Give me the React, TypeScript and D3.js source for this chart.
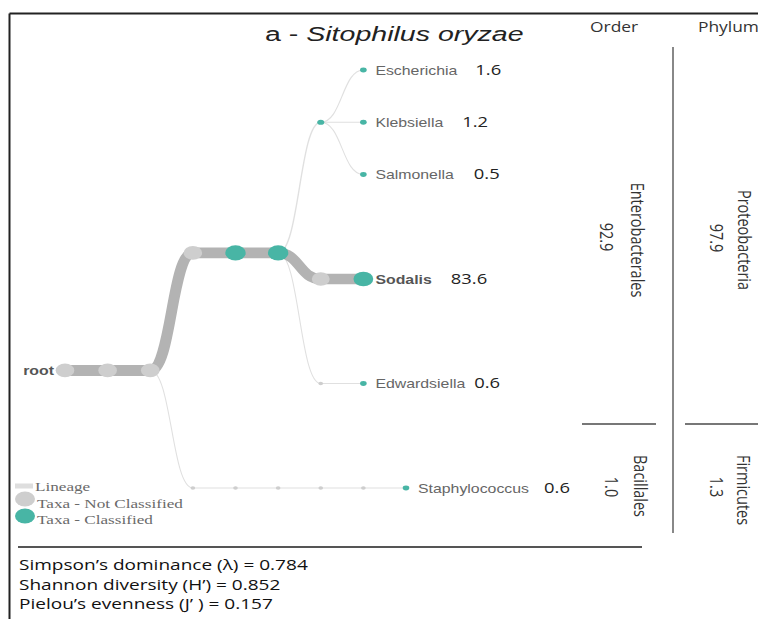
import React from 'react';
import * as d3 from 'd3';

// lineage tree: node ids, their parents, and whether the taxon is classified
const nodeIds = [
  'root', 'domain', 'kingdom',
  'phylumA', 'classA', 'orderA',
  'familyA', 'Escherichia', 'Klebsiella', 'Salmonella',
  'familyB', 'Sodalis',
  'familyC', 'Edwardsiella',
  'phylumB', 'classB', 'orderB', 'familyD', 'genusD', 'Staphylococcus',
];
const parentIds = [
  '', 'root', 'domain',
  'kingdom', 'phylumA', 'classA',
  'orderA', 'familyA', 'familyA', 'familyA',
  'orderA', 'familyB',
  'orderA', 'familyC',
  'kingdom', 'phylumB', 'classB', 'orderB', 'familyD', 'genusD',
];
const classified = [
  false, false, false,
  false, true, true,
  true, true, true, true,
  false, true,
  false, true,
  false, false, false, false, false, true,
];

// relative abundance (%) of the genera
const leafNames = ['Escherichia', 'Klebsiella', 'Salmonella', 'Sodalis', 'Edwardsiella', 'Staphylococcus'];
const leafValues = [1.6, 1.2, 0.5, 83.6, 0.6, 0.6];

// order / phylum columns
const orderNames = ['Enterobacterales', 'Bacillales'];
const orderValues = ['92.9', '1.0'];
const phylumNames = ['Proteobacteria', 'Firmicutes'];
const phylumValues = ['97.9', '1.3'];

const statLines = [
  'Simpson\u2019s dominance (\u03bb) = 0.784',
  'Shannon diversity (H\u2019) = 0.852',
  'Pielou\u2019s evenness (J\u2019 ) = 0.157',
];

const legendItems = ['Lineage', 'Taxa - Not Classified', 'Taxa - Classified'];

const W = 758;
const H = 619;
const TEAL = '#48b5a5';
const NODE_GREY = '#cecece';
const SX = 1.27; // the original picture is stretched sideways

// space between a genus name and its value
const valueGap: Record<string, number> = {
  Escherichia: 18, Klebsiella: 19, Salmonella: 20, Sodalis: 19, Edwardsiella: 9, Staphylococcus: 15,
};

type Row = { id: string; parent: string; classified: boolean };

const rows: Row[] = nodeIds.map((id, i) => ({ id, parent: parentIds[i], classified: classified[i] }));

const App: React.FC = () => {
  const root = d3.stratify<Row>()
    .id(d => d.id)
    .parentId(d => d.parent || null)(rows);

  root.sum(d => {
    const i = leafNames.indexOf(d.id);
    return i >= 0 ? leafValues[i] : 0;
  });

  d3.tree<Row>().nodeSize([1, 1])(root);

  const nodes = root.descendants();
  const total = root.value || 1;
  const [minX, maxX] = d3.extent(nodes, d => d.x as number) as [number, number];
  const maxDepth = d3.max(nodes, d => d.depth) as number;

  const xScale = d3.scaleLinear().domain([0, maxDepth]).range([65, 406]);
  const yScale = d3.scaleLinear().domain([minX, maxX]).range([70, 488]);
  const widthScale = d3.scaleLinear().domain([0, total]).range([1, 11]);

  const px = (d: any) => xScale(d.depth);
  const py = (d: any) => yScale(d.x);

  const link = d3.linkHorizontal<any, any>()
    .x(d => px(d))
    .y(d => py(d));

  const links = root.links().sort((a, b) => (a.target.value || 0) - (b.target.value || 0));

  const nodeRy = (d: any) => (d.data.classified ? 2.4 : 1.7) + 5.2 * ((d.value || 0) / total);

  const rotated = (x: number, y: number) => `translate(${x},${y}) scale(1.22,1) rotate(90)`;

  return (
    <svg width={W} height={H} style={{ position: 'absolute', left: 0, top: 0, background: '#fff' }}>
      {/* frame */}
      <line x1={9.5} x2={W} y1={13.5} y2={13.5} stroke="#222" strokeWidth={2} />
      <line x1={9.5} x2={9.5} y1={13.5} y2={H} stroke="#222" strokeWidth={2} />

      {/* title */}
      <text transform={`translate(265,40.5) scale(1.36,1)`} fontFamily="Liberation Sans, Arial" fontSize={21} fill="#222">
        a - <tspan fontStyle="italic">Sitophilus oryzae</tspan>
      </text>
      <text transform={`translate(590,32) scale(1.2,1)`} fontFamily="Open Sans" fontSize={14.5} fill="#333">Order</text>
      <text transform={`translate(698,32) scale(1.2,1)`} fontFamily="Open Sans" fontSize={14.5} fill="#333">Phylum</text>

      {/* links */}
      {links.map((l, i) => {
        const v = l.target.value || 0;
        return (
          <path
            key={i}
            d={link(l) as string}
            fill="none"
            stroke={v > 10 ? '#b3b3b3' : '#e0e0e0'}
            strokeWidth={widthScale(v)}
            strokeLinecap="round"
          />
        );
      })}

      {/* nodes */}
      {nodes.map(d => {
        const ry = nodeRy(d);
        return (
          <ellipse
            key={d.id}
            cx={px(d)}
            cy={py(d)}
            rx={ry * 1.35}
            ry={ry}
            fill={d.data.classified ? TEAL : NODE_GREY}
          />
        );
      })}

      {/* root label */}
      <text transform={`translate(54,${py(root) + 4.5}) scale(${SX},1)`} textAnchor="end"
        fontFamily="Liberation Sans, Arial" fontWeight="bold" fontSize={12.5} fill="#555">root</text>

      {/* genus labels and values */}
      {nodes.filter(d => !d.children).map(d => {
        const i = leafNames.indexOf(d.id as string);
        const big = d.id === 'Sodalis';
        return (
          <text key={d.id} transform={`translate(${px(d) + 12},${py(d) + 4.5}) scale(${SX},1)`}>
            <tspan fontFamily="Liberation Sans, Arial" fontSize={12.5}
              fontWeight={big ? 'bold' : 'normal'} fill={big ? '#555' : '#666'}>{d.id}</tspan>
            <tspan dx={valueGap[d.id as string] / SX} fontFamily="Open Sans" fontSize={14.5}
              fill="#222">{leafValues[i].toFixed(1)}</tspan>
          </text>
        );
      })}

      {/* order / phylum columns */}
      <line x1={673} x2={673} y1={47} y2={533} stroke="#888" strokeWidth={2} />
      <line x1={582} x2={656} y1={424} y2={424} stroke="#777" strokeWidth={2} />
      <line x1={685} x2={W} y1={424} y2={424} stroke="#777" strokeWidth={2} />
      <g fontFamily="Open Sans" fontSize={14.5} fill="#333" textAnchor="middle">
        <text transform={rotated(631, 240)}>{orderNames[0]}</text>
        <text transform={rotated(600, 237)}>{orderValues[0]}</text>
        <text transform={rotated(634, 486)}>{orderNames[1]}</text>
        <text transform={rotated(605, 487)}>{orderValues[1]}</text>
        <text transform={rotated(738, 240)}>{phylumNames[0]}</text>
        <text transform={rotated(710, 238)}>{phylumValues[0]}</text>
        <text transform={rotated(737, 490)}>{phylumNames[1]}</text>
        <text transform={rotated(710, 487)}>{phylumValues[1]}</text>
      </g>

      {/* legend */}
      <rect x={15} y={483.5} width={18} height={5} fill="#dedede" />
      <ellipse cx={25} cy={499} rx={10} ry={7.5} fill={NODE_GREY} />
      <ellipse cx={25} cy={516} rx={10} ry={7.5} fill={TEAL} />
      <g fontFamily="Liberation Serif, Times New Roman" fontSize={13.5} fill="#6a6a6a">
        <text transform={`translate(35,491) scale(${SX},1)`}>{legendItems[0]}</text>
        <text transform={`translate(37,507.5) scale(${SX},1)`}>{legendItems[1]}</text>
        <text transform={`translate(37,524) scale(${SX},1)`}>{legendItems[2]}</text>
      </g>

      {/* diversity indices */}
      <line x1={18} x2={642} y1={547} y2={547} stroke="#555" strokeWidth={2} />
      <g fontFamily="Open Sans" fontSize={15} fill="#111">
        {statLines.map((s, i) => (
          <text key={i} transform={`translate(19,${570 + i * 19.5}) scale(${SX},1)`}>{s}</text>
        ))}
      </g>
    </svg>
  );
};

export default App;
